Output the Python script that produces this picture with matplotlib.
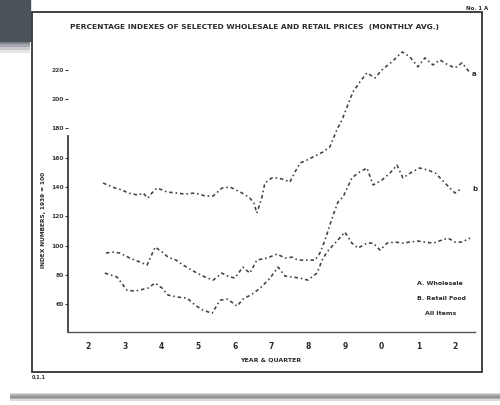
import matplotlib
matplotlib.use('Agg')
import matplotlib.pyplot as plt
from matplotlib.patches import Rectangle

# years since start and index values
a_years = [0.41, 0.60, 0.74, 0.93, 1.09, 1.36, 1.50, 1.63, 1.74, 1.88, 2.02, 2.15, 2.42, 2.64,
           2.92, 3.19, 3.41, 3.65, 3.87, 4.03, 4.20, 4.41, 4.52, 4.60, 4.69, 4.74, 4.82, 5.01,
           5.18, 5.37, 5.50, 5.64, 5.78, 5.97, 6.13, 6.40, 6.59, 6.78, 6.92, 7.08, 7.22, 7.41,
           7.60, 7.82, 8.01, 8.28, 8.56, 8.77, 8.99, 9.18, 9.40, 9.59, 9.81, 10.00, 10.19, 10.41]
a_vals = [142.7, 140.7, 139.3, 138.0, 135.9, 134.5, 135.9, 132.5, 135.9, 139.3, 138.0, 136.6,
          135.9, 135.2, 135.9, 133.9, 133.9, 139.3, 140.0, 138.0, 135.9, 132.5, 129.1, 122.2,
          129.1, 133.2, 142.7, 146.2, 146.2, 144.8, 143.4, 150.3, 156.4, 158.5, 160.5, 163.9,
          167.4, 179.0, 185.8, 196.1, 205.0, 211.8, 218.0, 214.5, 220.0, 225.5, 232.3, 228.9,
          222.1, 228.2, 223.4, 226.8, 223.4, 221.4, 224.8, 218.0]

b_years = [0.49, 0.65, 0.87, 1.14, 1.42, 1.61, 1.83, 2.02, 2.18, 2.40, 2.59, 2.78, 2.97, 3.19,
           3.41, 3.65, 3.81, 4.00, 4.22, 4.41, 4.60, 4.88, 5.15, 5.37, 5.56, 5.72, 5.97, 6.19,
           6.32, 6.46, 6.59, 6.68, 6.81, 6.95, 7.19, 7.36, 7.60, 7.77, 8.01, 8.23, 8.42, 8.58,
           8.83, 9.04, 9.26, 9.46, 9.65, 9.86, 10.00, 10.19]
b_vals = [94.9, 95.6, 94.9, 91.5, 88.7, 86.7, 99.0, 95.6, 92.1, 90.1, 86.7, 83.9, 81.2, 78.5,
          76.4, 81.2, 79.1, 77.8, 85.3, 81.2, 90.1, 91.5, 94.2, 91.5, 92.1, 90.1, 90.1, 90.1,
          94.9, 103.8, 114.0, 120.9, 129.7, 133.2, 146.2, 149.6, 153.0, 141.4, 144.8, 149.6,
          155.0, 146.2, 150.3, 153.0, 151.6, 149.6, 144.8, 139.3, 135.9, 139.3]

c_years = [0.46, 0.79, 1.06, 1.28, 1.63, 1.83, 2.02, 2.18, 2.45, 2.70, 2.92, 3.13, 3.38, 3.60,
           3.81, 4.06, 4.22, 4.47, 4.69, 4.96, 5.18, 5.37, 5.56, 5.78, 5.99, 6.24, 6.38, 6.51,
           6.68, 6.81, 7.00, 7.19, 7.36, 7.60, 7.77, 7.96, 8.15, 8.37, 8.58, 8.77, 8.99, 9.18,
           9.40, 9.65, 9.81, 10.00, 10.19, 10.41]
c_vals = [81.2, 78.5, 69.6, 68.9, 70.9, 74.4, 70.9, 66.2, 64.8, 64.1, 59.3, 55.9, 53.8, 62.7,
          63.4, 58.6, 63.4, 66.8, 70.9, 77.8, 85.3, 79.1, 78.5, 77.8, 76.4, 81.2, 90.1, 95.6,
          100.3, 103.8, 109.2, 101.7, 98.3, 101.7, 101.7, 96.9, 101.7, 102.4, 101.7, 102.4,
          103.1, 102.4, 101.7, 103.8, 105.1, 102.4, 102.4, 105.1]

x_ticks = list(range(11))
x_labels = ['2', '3', '4', '5', '6', '7', '8', '9', '0', '1', '2']
y_ticks = [60, 80, 100, 120, 140, 160, 180, 200, 220]
legend_labels = ['A. Wholesale', 'B. Retail Food', 'All Items']

ink = '#2a2a2a'
fig = plt.figure(figsize=(5, 4.05), dpi=100)
fig.patch.set_facecolor('white')

# scanned page decorations: dark corner fading out, page frame, bottom shadow
fig.patches.append(Rectangle((0, 0.9), 0.06, 0.1, transform=fig.transFigure,
                             color='#4a525a', zorder=0))
for k, al in enumerate([0.7, 0.5, 0.3, 0.15]):
    fig.patches.append(Rectangle((0, 0.9 - 0.008 * (k + 1)), 0.06, 0.008,
                                 transform=fig.transFigure, color='#4a525a', alpha=al,
                                 lw=0, zorder=0))
fig.patches.append(Rectangle((0.064, 0.081), 0.9, 0.889, transform=fig.transFigure,
                             fill=False, edgecolor='#333333', lw=1.3, zorder=1))
for k, al in enumerate([0.25, 0.55, 0.75, 0.55, 0.25]):
    fig.patches.append(Rectangle((0.02, 0.010 + 0.004 * k), 0.98, 0.004,
                                 transform=fig.transFigure, color='#707070', alpha=al,
                                 lw=0, zorder=0))

ax = fig.add_axes([0.136, 0.18, 0.814, 0.771])
ax.set_facecolor('none')
style = dict(color='#404040', lw=1.15, linestyle=(0, (2.2, 1.8, 1.0, 1.8)))
ax.plot(a_years, a_vals, **style)
ax.plot(b_years, b_vals, **style)
ax.plot(c_years, c_vals, **style)

ax.text(10.46, a_vals[-1] - 2, 'a', fontsize=5, fontweight='bold', color=ink)
ax.text(10.46, b_vals[-1] - 2, 'b', fontsize=5, fontweight='bold', color=ink)

ax.set_xlim(-0.545, 10.545)
ax.set_ylim(40.9, 254.2)
ax.set_xticks(x_ticks)
ax.set_xticklabels(x_labels, fontsize=5.5, fontweight='bold', color=ink)
ax.set_yticks(y_ticks)
ax.set_yticklabels([str(v) for v in y_ticks], fontsize=4.3, fontweight='bold', color='#3a3a3a')
ax.tick_params(axis='x', length=0, pad=7)
ax.tick_params(axis='y', length=2, width=0.8, pad=1, colors='#3a3a3a')
for s in ['top', 'right']:
    ax.spines[s].set_visible(False)
ax.spines['left'].set_bounds(40.9, 175)
ax.spines['left'].set_color(ink)
ax.spines['left'].set_linewidth(1.2)
ax.spines['bottom'].set_color('#555555')
ax.spines['bottom'].set_linewidth(1.0)

for lbl, xy in zip(legend_labels, [(0.857, 0.157), (0.857, 0.109), (0.877, 0.061)]):
    ax.text(xy[0], xy[1], lbl, transform=ax.transAxes, fontsize=4.5, fontweight='bold',
            color=ink, va='center')

fig.text(0.51, 0.933, 'PERCENTAGE INDEXES OF SELECTED WHOLESALE AND RETAIL PRICES  (MONTHLY AVG.)',
         ha='center', va='center', fontsize=5.4, fontweight='bold', color=ink)
fig.text(0.086, 0.457, 'INDEX NUMBERS, 1939 = 100', rotation=90, ha='center', va='center',
         fontsize=4.2, fontweight='bold', color=ink)
fig.text(0.542, 0.111, 'YEAR & QUARTER', ha='center', va='center', fontsize=4.5,
         fontweight='bold', color=ink)
fig.text(0.955, 0.985, 'No. 1 A', ha='center', va='top', fontsize=4, fontweight='bold', color=ink)
fig.text(0.078, 0.068, '0.1.1', ha='center', va='center', fontsize=3.5, fontweight='bold', color=ink)

fig.savefig('out.png', dpi=100)
